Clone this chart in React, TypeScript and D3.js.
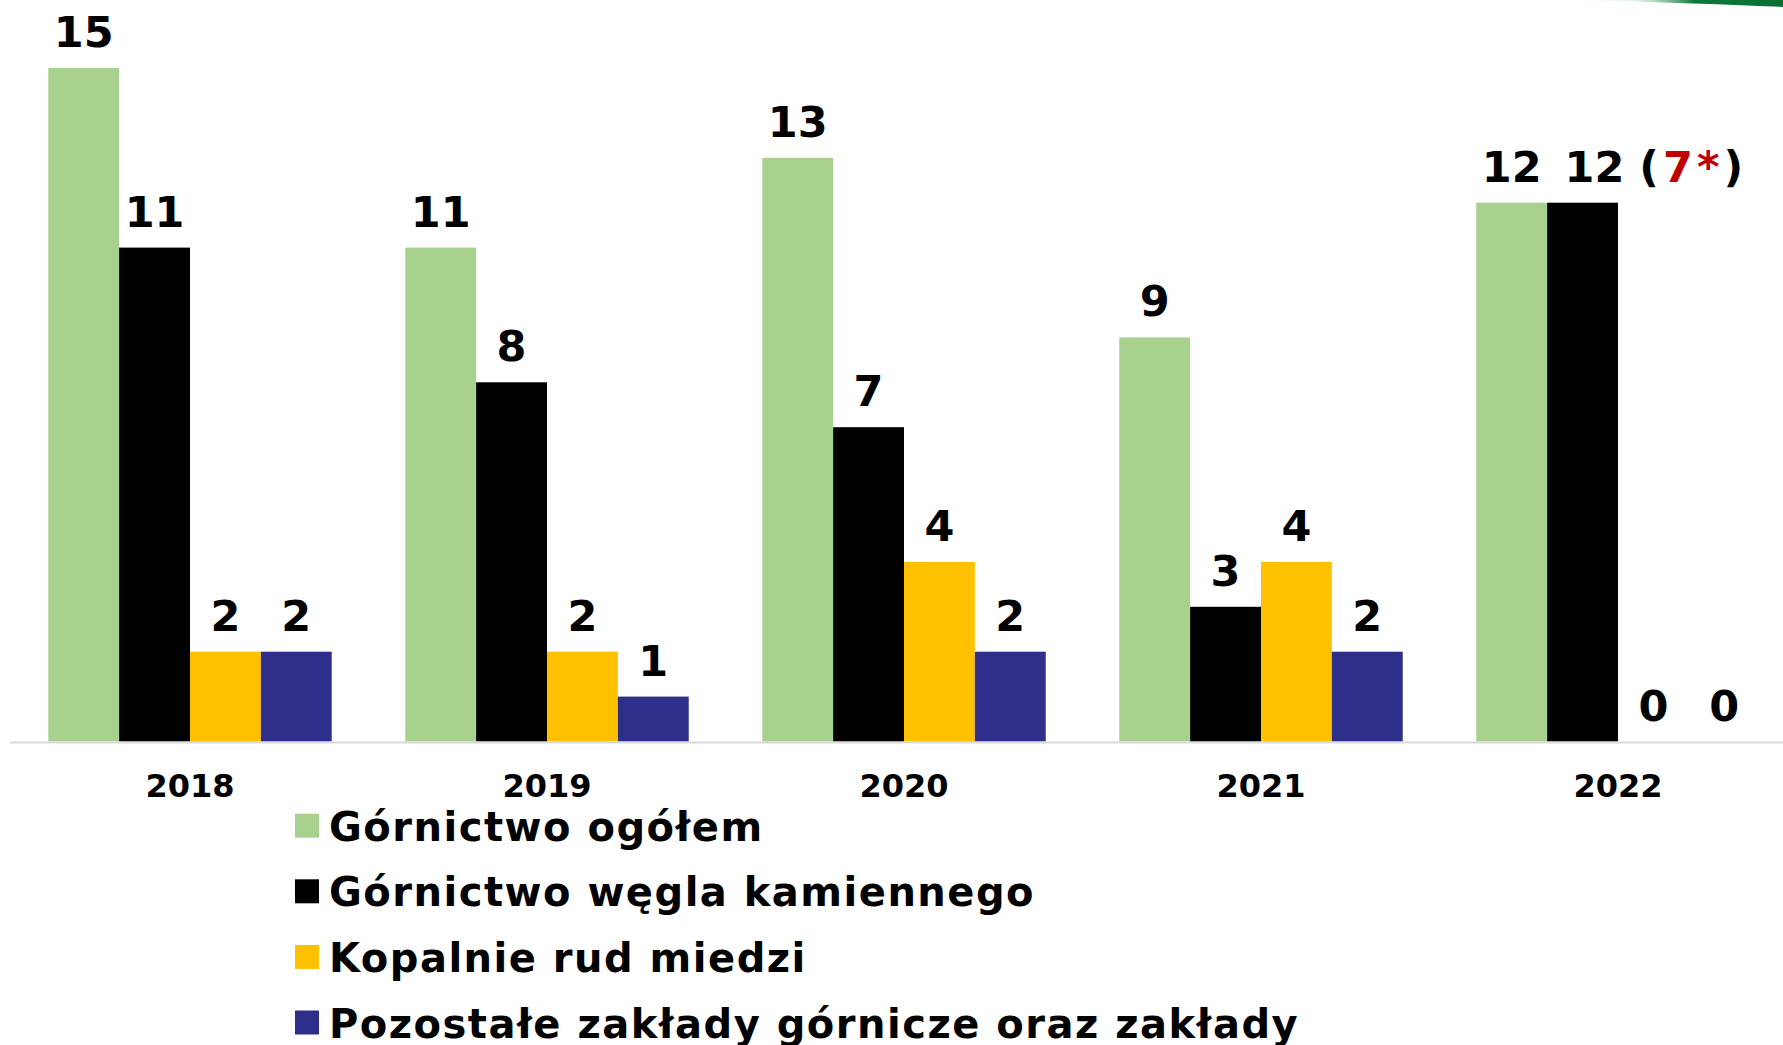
import React from "react";
import * as d3 from "d3";

const years = ["2018", "2019", "2020", "2021", "2022"];
const gornictwoOgolem = [15, 11, 13, 9, 12];
const gornictwoWegla = [11, 8, 7, 3, 12];
const kopalnieRud = [2, 2, 4, 4, 0];
const pozostale = [2, 1, 2, 2, 0];

const seriesNames = [
  "Górnictwo ogółem",
  "Górnictwo węgla kamiennego",
  "Kopalnie rud miedzi",
  "Pozostałe zakłady górnicze oraz zakłady",
];
const seriesColors = ["#a9d18e", "#000000", "#ffc000", "#2e2e8b"];
const seriesValues = [gornictwoOgolem, gornictwoWegla, kopalnieRud, pozostale];

const W = 1783;
const H = 1045;
const FONT = "'DejaVu Sans', Verdana, sans-serif";

export default function App() {
  const x0 = d3
    .scaleBand<string>()
    .domain(years)
    .range([11.5, 1796.5])
    .paddingInner(0.206)
    .paddingOuter(0.103);
  const x1 = d3
    .scaleBand<number>()
    .domain(d3.range(seriesNames.length))
    .range([0, x0.bandwidth()]);
  const y = d3.scaleLinear().domain([0, 15]).range([741.5, 68]);

  return (
    <div style={{ position: "fixed", left: 0, top: 0, width: W, height: H, background: "#fff" }}>
      <svg width={W} height={H} style={{ display: "block" }} fontFamily={FONT}>
        <defs>
          <linearGradient id="sw" x1="0" x2="1" y1="0" y2="0">
            <stop offset="0" stopColor="#ffffff" stopOpacity={0} />
            <stop offset="0.35" stopColor="#cfe8d6" stopOpacity={0.6} />
            <stop offset="0.6" stopColor="#0b7a3b" />
            <stop offset="1" stopColor="#0a6e33" />
          </linearGradient>
        </defs>
        <path d={`M1560,0 L${W},0 L${W},7 Q1700,3 1560,0 Z`} fill="url(#sw)" />

        {years.map((yr, i) => (
          <g key={yr} transform={`translate(${x0(yr)},0)`}>
            {seriesValues.map((vals, s) => {
              const v = vals[i];
              const bx = x1(s)!;
              const bw = x1.bandwidth();
              return (
                <g key={s}>
                  {v > 0 && (
                    <rect x={bx} y={y(v)} width={bw} height={y(0) - y(v)} fill={seriesColors[s]} />
                  )}
                  {yr === "2022" && s === 1 ? (
                    <text
                      x={bx + bw / 2 - 18}
                      y={y(v) - 21}
                      fontSize={43}
                      fontWeight="bold"
                      textAnchor="start"
                      fill="#000"
                    >
                      {"12 "}
                      <tspan letterSpacing={4}>(</tspan>
                      <tspan fill="#c00000" letterSpacing={4}>7*</tspan>
                      <tspan>)</tspan>
                    </text>
                  ) : (
                    <text
                      x={bx + bw / 2}
                      y={y(v) - 21}
                      fontSize={43}
                      fontWeight="bold"
                      textAnchor="middle"
                      fill="#000"
                    >
                      {v}
                    </text>
                  )}
                </g>
              );
            })}
            <text
              x={x0.bandwidth() / 2}
              y={796.7}
              fontSize={32}
              fontWeight="bold"
              textAnchor="middle"
              fill="#000"
            >
              {yr}
            </text>
          </g>
        ))}

        <line x1={10} x2={W} y1={y(0) + 1} y2={y(0) + 1} stroke="#d9d9d9" strokeWidth={2} />

        {seriesNames.map((name, s) => {
          const base = 840.7 + s * 65.6;
          return (
            <g key={name}>
              <rect x={295} y={base - 27} width={24} height={24} fill={seriesColors[s]} />
              <text x={329} y={base} fontSize={40} fontWeight="bold" fill="#000" letterSpacing={1.5}>
                {name}
              </text>
            </g>
          );
        })}
      </svg>
    </div>
  );
}
